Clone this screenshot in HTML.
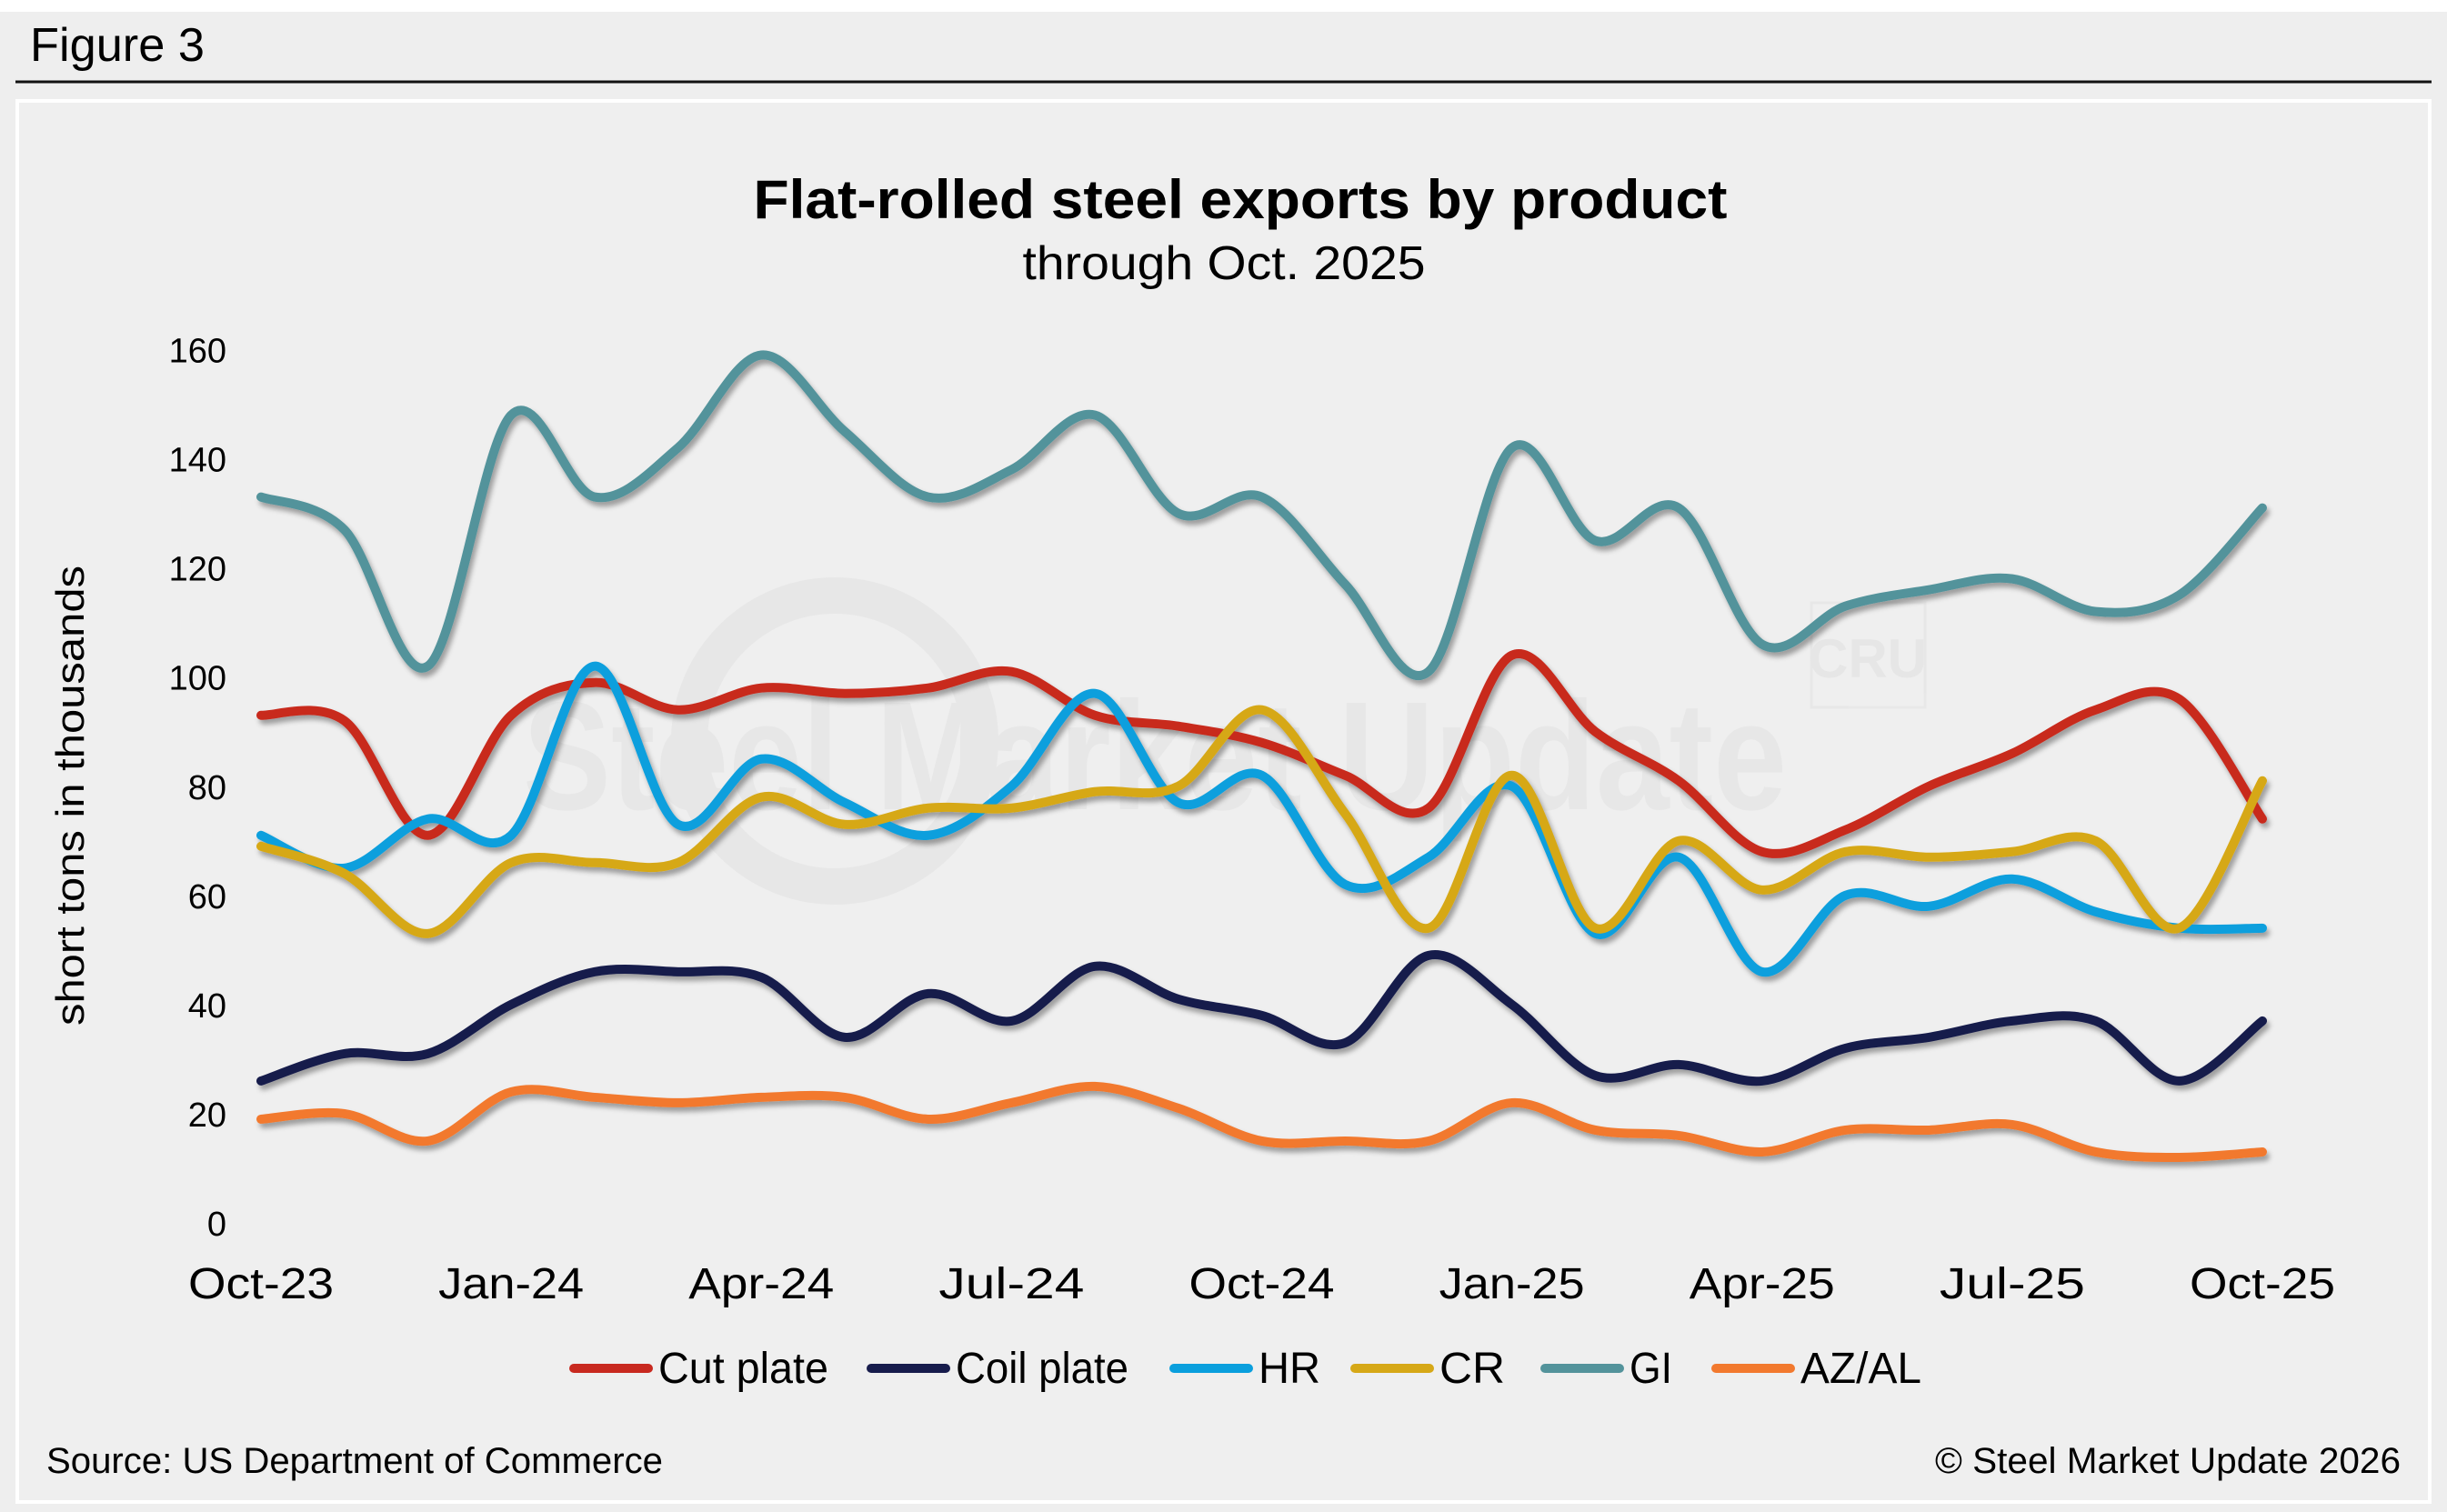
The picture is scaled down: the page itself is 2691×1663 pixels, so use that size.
<!DOCTYPE html>
<html><head><meta charset="utf-8"><style>
html,body{margin:0;padding:0;background:#fff;}
svg{display:block;font-family:"Liberation Sans",Arial,sans-serif;}
</style></head><body>
<svg id="chart" width="2691" height="1663" viewBox="0 0 2691 1663">
<defs>
<filter id="sh" x="-5%" y="-5%" width="110%" height="120%"><feGaussianBlur in="SourceAlpha" stdDeviation="3"/><feOffset dx="3" dy="5" result="b"/><feComponentTransfer><feFuncA type="linear" slope="0.35"/></feComponentTransfer><feMerge><feMergeNode/><feMergeNode in="SourceGraphic"/></feMerge></filter>
</defs>
<rect x="0" y="13" width="2691" height="1650" fill="#eeeeee"/>
<text x="33" y="67" font-size="52" fill="#000" textLength="192" lengthAdjust="spacingAndGlyphs">Figure 3</text>
<line x1="17" y1="90" x2="2674" y2="90" stroke="#111" stroke-width="3"/>
<rect x="19" y="111" width="2653" height="1541" fill="#efefef" stroke="#fff" stroke-width="4"/>
<g opacity="0.3">
<circle cx="918" cy="815" r="160" fill="none" stroke="#d6d6d6" stroke-width="40"/>
<text x="575" y="890" font-size="170" fill="#d8d8d8" font-weight="bold" textLength="1390" lengthAdjust="spacingAndGlyphs">Steel Market Update</text>
<rect x="1992" y="663" width="125" height="115" fill="none" stroke="#d6d6d6" stroke-width="3"/>
<text x="2054" y="745" font-size="60" fill="#d4d4d4" text-anchor="middle" font-weight="bold">CRU</text>
</g>
<text x="1364" y="240" font-size="60" font-weight="bold" text-anchor="middle" textLength="1071" lengthAdjust="spacingAndGlyphs">Flat-rolled steel exports by product</text>
<text x="1346" y="307" font-size="52" text-anchor="middle" textLength="443" lengthAdjust="spacingAndGlyphs">through Oct. 2025</text>
<text transform="translate(92,875) rotate(-90)" font-size="44" text-anchor="middle" textLength="506" lengthAdjust="spacingAndGlyphs">short tons in thousands</text>
<g id="yticks"></g><g id="xticks"></g><g id="series" filter="url(#sh)"></g><g id="legend"></g>
<text x="51" y="1620" font-size="40" textLength="678" lengthAdjust="spacingAndGlyphs">Source: US Department of Commerce</text>
<text x="2640" y="1620" font-size="40" text-anchor="end" textLength="512" lengthAdjust="spacingAndGlyphs">© Steel Market Update 2026</text>
</svg>
<script>
const months = ["Oct-23","Nov-23","Dec-23","Jan-24","Feb-24","Mar-24","Apr-24","May-24","Jun-24","Jul-24","Aug-24","Sep-24","Oct-24","Nov-24","Dec-24","Jan-25","Feb-25","Mar-25","Apr-25","May-25","Jun-25","Jul-25","Aug-25","Sep-25","Oct-25"];
const xTickLabels = ["Oct-23","Jan-24","Apr-24","Jul-24","Oct-24","Jan-25","Apr-25","Jul-25","Oct-25"];
const yTicks = [0,20,40,60,80,100,120,140,160];
const seriesNames = ["Cut plate","Coil plate","HR","CR","GI","AZ/AL"];
const seriesColors = ["#c8291f","#171c4c","#0a9fdd","#d6a817","#53939b","#f2792e"];
const cutPlate = [93,92,71,93,99,94,98,97,98,101,93,91,88,82,76,104,90,81,68,72,80,86,94,96,74];
const coilPlate = [26,31,31,40,46,46,45,34,42,37,47,41,38,33,49,40,27,29,26,32,34,37,37,26,37];
const hr = [71,65,74,71,102,73,85,77,71,80,97,77,82,62,67,80,53,67,46,60,58,63,57,54,54];
const cr = [69,64,53,66,66,66,78,73,76,76,79,80,94,75,54,82,54,70,61,68,67,68,70,54,81];
const gi = [133,127,102,148,133,142,159,145,133,138,148,130,133,117,101,142,125,131,106,113,116,118,112,115,131];
const azal = [19,20,15,24,23,22,23,23,19,22,25,21,15,15,15,22,17,16,13,17,17,18,13,12,13];
const seriesData = [cutPlate,coilPlate,hr,cr,gi,azal];

const NS="http://www.w3.org/2000/svg";
const X0=287,X1=2488,Y0=1345,Y1=384.5,YMAX=160;
function xs(i){return X0+(X1-X0)*i/(months.length-1);}
function ys(v){return Y0-(Y0-Y1)*v/YMAX;}
function mk(tag,attrs,parent){const e=document.createElementNS(NS,tag);for(const k in attrs)e.setAttribute(k,attrs[k]);parent.appendChild(e);return e;}

const yg=document.getElementById('yticks');
yTicks.forEach(v=>{
  const t=mk('text',{x:249,y:ys(v)+14,'font-size':38,'text-anchor':'end'},yg);
  
  
  t.textContent=v;
});
const xg=document.getElementById('xticks');
xTickLabels.forEach(l=>{
  const i=months.indexOf(l);
  const t=mk('text',{x:xs(i),y:1428,'font-size':48,'text-anchor':'middle',textLength:160,lengthAdjust:'spacingAndGlyphs'},xg);
  
  
  t.textContent=l;
});
function smoothPath(vals){
  const p=vals.map((v,i)=>[xs(i),ys(v)]);
  let d=`M${p[0][0]},${p[0][1]}`;
  const tn=1/6;
  for(let i=0;i<p.length-1;i++){
    const a=p[Math.max(0,i-1)],b=p[i],c=p[i+1],e=p[Math.min(p.length-1,i+2)];
    const c1=[b[0]+(c[0]-a[0])*tn,b[1]+(c[1]-a[1])*tn];
    const c2=[c[0]-(e[0]-b[0])*tn,c[1]-(e[1]-b[1])*tn];
    d+=` C${c1[0]},${c1[1]} ${c2[0]},${c2[1]} ${c[0]},${c[1]}`;
  }
  return d;
}
const sg=document.getElementById('series');
[5,1,4,0,2,3].forEach(k=>{
  const path=mk('path',{d:smoothPath(seriesData[k]),fill:'none',stroke:seriesColors[k],'stroke-width':10,'stroke-linecap':'round','stroke-linejoin':'round'},sg);
  
  
});
const lg=document.getElementById('legend');
const lineX=[631,958,1291,1490,1699,1887];
const textW=[187,190,68,72,47,133];
seriesNames.forEach((n,k)=>{
  const g=mk('g',{},lg);
  
  
  mk('line',{x1:lineX[k],y1:1505,x2:lineX[k]+82,y2:1505,stroke:seriesColors[k],'stroke-width':10,'stroke-linecap':'round'},g);
  const t=mk('text',{x:lineX[k]+93,y:1521,'font-size':48,textLength:textW[k],lengthAdjust:'spacingAndGlyphs'},g);
  t.textContent=n;
});
</script>
</body></html>
